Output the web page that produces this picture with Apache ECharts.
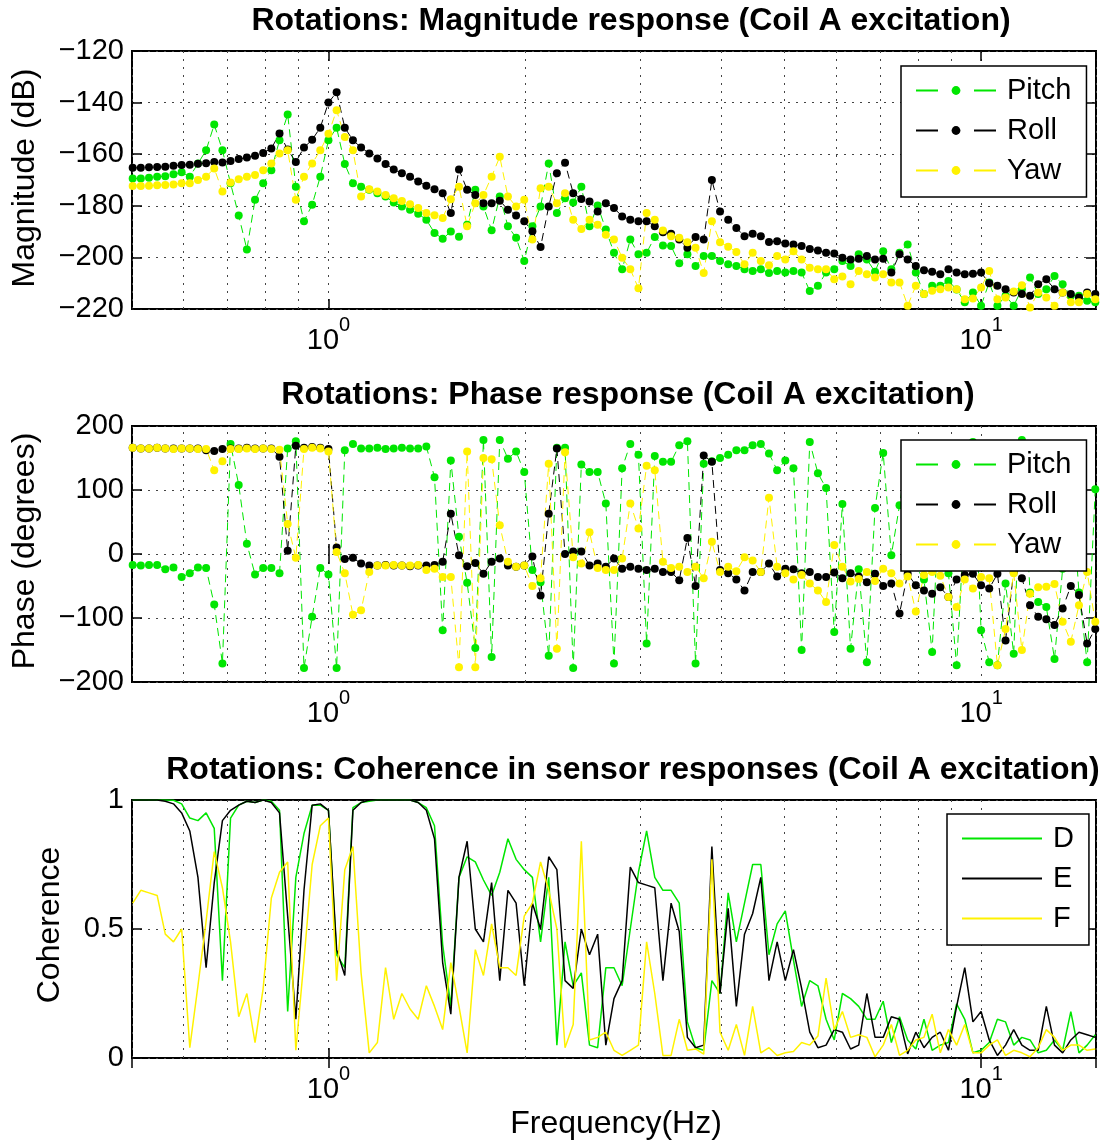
<!DOCTYPE html>
<html>
<head>
<meta charset="utf-8">
<title>Rotations (Coil A excitation)</title>
<script src="https://cdn.jsdelivr.net/npm/echarts@6/dist/echarts.min.js"></script>
<style>
  html, body { margin: 0; padding: 0; background: #fff; }
  #chart { width: 1104px; height: 1143px; }
</style>
</head>
<body>
<div id="chart"></div>
<script>
// frequency grid (Hz), shared by the three panels
var freq = [
  0.5012, 0.5158, 0.5309, 0.5464, 0.5623, 0.5788, 0.5957, 0.6131,
  0.6310, 0.6494, 0.6683, 0.6879, 0.7079, 0.7286, 0.7499, 0.7718,
  0.7943, 0.8175, 0.8414, 0.8660, 0.8913, 0.9173, 0.9441, 0.9716,
  1.0000, 1.0292, 1.0593, 1.0902, 1.1220, 1.1548, 1.1885, 1.2232,
  1.2589, 1.2957, 1.3335, 1.3725, 1.4125, 1.4538, 1.4962, 1.5399,
  1.5849, 1.6312, 1.6788, 1.7278, 1.7783, 1.8302, 1.8836, 1.9387,
  1.9953, 2.0535, 2.1135, 2.1752, 2.2387, 2.3041, 2.3714, 2.4406,
  2.5119, 2.5852, 2.6607, 2.7384, 2.8184, 2.9007, 2.9854, 3.0726,
  3.1623, 3.2546, 3.3497, 3.4475, 3.5481, 3.6517, 3.7584, 3.8681,
  3.9811, 4.0973, 4.2170, 4.3401, 4.4668, 4.5973, 4.7315, 4.8697,
  5.0119, 5.1582, 5.3088, 5.4639, 5.6234, 5.7876, 5.9566, 6.1306,
  6.3096, 6.4938, 6.6834, 6.8786, 7.0795, 7.2862, 7.4989, 7.7179,
  7.9433, 8.1752, 8.4140, 8.6596, 8.9125, 9.1728, 9.4406, 9.7163,
  10.000, 10.292, 10.593, 10.902, 11.220, 11.548, 11.885, 12.232,
  12.589, 12.957, 13.335, 13.725, 14.125, 14.538, 14.962
];

// magnitude response (dB)
var pitchMag = [
  -169.4, -169.4, -169.1, -168.7, -168.5, -167.8, -167.0, -168.7,
  -163.6, -158.5, -148.5, -158.5, -171.3, -183.8, -196.9, -177.7,
  -171.3, -166.2, -154.6, -144.6, -172.6, -186.0, -179.6, -168.7,
  -154.6, -149.7, -163.8, -171.3, -172.6, -173.8, -175.1, -176.4,
  -178.7, -180.3, -181.5, -183.1, -185.4, -190.5, -192.8, -190.0,
  -192.0, -187.3, -173.8, -180.3, -189.5, -176.4, -187.9, -192.4,
  -201.4, -187.9, -180.3, -163.6, -182.8, -177.1, -178.7, -172.6,
  -187.9, -179.9, -189.2, -198.2, -204.6, -193.1, -198.8, -198.2,
  -192.1, -195.4, -195.6, -202.3, -198.8, -203.3, -199.5, -199.5,
  -201.4, -202.7, -203.3, -204.6, -205.3, -204.6, -206.0, -205.3,
  -205.9, -205.3, -205.9, -213.0, -211.0, -205.9, -204.6, -201.4,
  -203.3, -198.8, -200.8, -205.6, -197.6, -204.6, -198.2, -195.0,
  -205.9, -214.2, -211.0, -211.0, -209.1, -212.4, -217.4, -213.6,
  -218.7, -209.7, -218.7, -214.9, -218.7, -212.3, -207.8, -214.2,
  -212.3, -207.2, -210.4, -214.9, -214.9, -216.8, -217.4
];
var rollMag = [
  -165.3, -165.3, -165.1, -165.0, -164.9, -164.5, -164.2, -164.1,
  -163.7, -163.5, -163.0, -163.2, -162.6, -161.9, -161.3, -160.6,
  -159.5, -157.8, -152.0, -158.2, -163.0, -157.4, -154.4, -149.7,
  -140.0, -136.0, -149.7, -154.6, -157.4, -159.7, -161.7, -163.8,
  -165.9, -167.4, -168.7, -170.6, -172.2, -173.6, -175.1, -182.8,
  -165.9, -173.8, -175.8, -179.0, -179.0, -178.0, -181.5, -183.8,
  -186.0, -189.9, -196.0, -180.3, -167.4, -163.3, -175.1, -177.4,
  -178.3, -182.2, -179.0, -180.9, -184.1, -185.4, -186.0, -186.0,
  -187.9, -190.3, -190.8, -193.1, -196.3, -192.1, -193.1, -170.0,
  -182.2, -185.4, -188.6, -191.8, -190.8, -191.8, -194.0, -193.7,
  -194.6, -195.0, -195.6, -196.7, -197.3, -198.2, -198.5, -200.1,
  -200.8, -200.5, -199.5, -200.8, -200.5, -205.9, -198.8, -200.8,
  -203.3, -205.0, -205.6, -206.5, -204.6, -205.9, -206.5, -206.3,
  -205.9, -210.0, -211.0, -212.3, -213.6, -214.2, -214.9, -210.4,
  -208.5, -212.3, -213.6, -214.2, -215.5, -213.6, -214.2
];
var yawMag = [
  -172.3, -172.3, -172.2, -172.0, -171.9, -171.7, -171.3, -171.3,
  -170.0, -168.7, -165.5, -174.5, -171.0, -169.7, -168.7, -168.1,
  -166.2, -163.6, -159.7, -158.5, -177.7, -168.7, -163.6, -158.5,
  -152.1, -143.0, -153.3, -158.5, -176.4, -173.6, -174.5, -175.8,
  -177.1, -178.1, -179.4, -180.9, -182.8, -183.7, -184.7, -177.5,
  -172.6, -187.9, -179.0, -175.8, -168.7, -161.0, -176.4, -180.3,
  -177.7, -193.1, -173.2, -172.6, -179.0, -175.1, -185.4, -189.0,
  -185.4, -187.3, -191.2, -193.1, -200.1, -204.6, -212.0, -182.8,
  -185.4, -189.6, -191.8, -192.4, -194.1, -196.3, -206.0, -186.0,
  -194.1, -195.9, -197.9, -202.7, -198.2, -201.4, -203.0, -199.5,
  -200.8, -197.6, -200.8, -204.0, -204.6, -204.6, -208.5, -207.4,
  -210.4, -205.3, -206.5, -207.8, -206.5, -209.7, -209.7, -218.7,
  -211.0, -214.2, -212.9, -212.3, -211.7, -212.3, -216.2, -215.9,
  -211.7, -205.3, -216.2, -215.5, -213.2, -210.8, -219.4, -213.6,
  -215.5, -218.7, -213.6, -217.4, -217.4, -214.2, -216.2
];

// phase response (degrees)
var pitchPhase = [
  -17, -18, -17, -17, -24, -21, -36, -30,
  -21, -22, -79, -171, 172, 108, 16, -32,
  -22, -22, -30, 165, 176, -178, -98, -22,
  -32, -178, 162, 172, 165, 165, 166, 164,
  165, 166, 165, 165, 168, 120, -119, 146,
  27, -45, -147, 178, -161, 178, 149, 160,
  128, -25, -44, -159, 166, 166, -178, 140,
  128, 128, 79, -171, 134, 172, 155, -140,
  153, 144, 144, 170, 176, -171, 141, 145,
  150, 155, 162, 162, 170, 172, 157, 131,
  146, 134, -150, 175, 126, 103, -122, 78,
  -148, -24, -169, 72, 158, -2, 76, 160,
  -20, -40, -153, 120, -30, -174, 60, 175,
  -119, -169, -174, -46, -156, 178, -60, -75,
  -83, -164, -23, 120, -60, -169, 101
];
var rollPhase = [
  166, 165, 165, 166, 165, 165, 165, 165,
  165, 162, 161, 164, 165, 165, 166, 165,
  165, 165, 152, 5, 169, 166, 167, 166,
  164, 10, -8, -6, -15, -18, -18, -17,
  -18, -18, -19, -18, -18, -17, -12, 63,
  -2, -19, -14, -31, -12, -7, -18, -20,
  -18, -4, -65, 63, 165, 0, 4, 4,
  -18, -15, -20, -7, -23, -20, -23, -25,
  -23, -28, -28, -41, 25, -50, 154, 144,
  -25, -30, -40, -57, -28, -28, -15, -35,
  -23, -24, -30, -28, -36, -36, -29, -38,
  -30, -35, -44, -31, -50, -46, -93, -31,
  -49, -57, -62, -52, -67, -40, -33, -31,
  -49, -54, -31, -135, -28, -38, -80, -98,
  -102, -111, -85, -50, -64, -140, -117
];
var yawPhase = [
  166, 165, 165, 166, 165, 164, 165, 165,
  164, 164, 131, 145, 164, 164, 165, 164,
  165, 164, 163, 47, -6, 164, 166, 165,
  160, 3, -30, -95, -88, -28, -18, -18,
  -17, -18, -18, -17, -25, -23, -36, -36,
  -177, 160, -177, 150, 148, 45, -12, -20,
  -18, -50, -38, 141, -148, 159, -5, -15,
  34, -22, -25, -25, -7, 79, 40, 138,
  131, -12, -22, -20, -28, -20, -38, 19,
  -28, -20, -27, -5, -10, -28, 88, -20,
  -30, -40, -33, -46, -57, -75, 14, -20,
  -43, -39, -28, -42, -23, -30, -46, -35,
  -90, -33, -28, -34, -67, -83, -40, -54,
  -36, -38, -174, -117, -30, -150, -62, -52,
  -51, -47, -106, -137, -80, -28, -106
];

// coherence in sensor responses
var cohD = [
  1, 1, 1, 1, 1, 0.999, 0.985, 0.93,
  0.92, 0.95, 0.89, 0.3, 0.93, 0.98, 0.995, 0.99,
  1, 0.995, 0.96, 0.18, 0.7, 0.87, 0.98, 0.98,
  0.96, 0.4, 0.35, 0.97, 0.99, 0.995, 1, 1,
  1, 1, 1, 0.99, 0.97, 0.9, 0.44, 0.2,
  0.7, 0.78, 0.76, 0.69, 0.63, 0.72, 0.85, 0.77,
  0.73, 0.7, 0.45, 0.7, 0.05, 0.45, 0.28, 0.33,
  0.05, 0.04, 0.35, 0.35, 0.28, 0.5, 0.72, 0.88,
  0.7, 0.65, 0.65, 0.6, 0.14, 0.04, 0.03, 0.3,
  0.25, 0.64, 0.45, 0.6, 0.75, 0.75, 0.4, 0.52,
  0.57, 0.38, 0.2, 0.3, 0.28, 0.15, 0.07, 0.25,
  0.23, 0.2, 0.15, 0.15, 0.22, 0.06, 0.16, 0.07,
  0.035, 0.15, 0.03, 0.05, 0.06, 0.21, 0.15, 0.02,
  0.03, 0.06, 0.15, 0.14, 0.05, 0.08, 0.07, 0.02,
  0.03, 0.07, 0.03, 0.18, 0.02, 0.05, 0.09
];
var cohE = [
  1, 1, 1, 1, 0.995, 0.985, 0.95, 0.88,
  0.7, 0.35, 0.68, 0.92, 0.96, 0.98, 0.995, 0.99,
  1, 0.99, 0.95, 0.55, 0.15, 0.65, 0.98, 0.985,
  0.96, 0.42, 0.32, 0.96, 0.99, 1, 1, 1,
  1, 1, 1, 0.99, 0.96, 0.85, 0.37, 0.17,
  0.7, 0.84, 0.5, 0.45, 0.68, 0.3, 0.65, 0.6,
  0.28, 0.6, 0.5, 0.78, 0.73, 0.3, 0.27, 0.5,
  0.4, 0.48, 0.05, 0.23, 0.3, 0.74, 0.68, 0.67,
  0.66, 0.3, 0.6, 0.49, 0.08, 0.04, 0.05, 0.82,
  0.25, 0.58, 0.2, 0.48, 0.56, 0.7, 0.3, 0.45,
  0.3, 0.42, 0.27, 0.1, 0.04, 0.05, 0.11, 0.1,
  0.035, 0.05, 0.25, 0.08, 0.08, 0.16, 0.15, 0.016,
  0.1, 0.04, 0.08, 0.1, 0.03, 0.2, 0.35, 0.14,
  0.18, 0.07, 0.01, 0.05, 0.11, 0.05, 0.03, 0.03,
  0.2, 0.05, 0.02, 0.07, 0.1, 0.09, 0.08
];
var cohF = [
  0.6, 0.65, 0.64, 0.63, 0.48, 0.45, 0.5, 0.04,
  0.28, 0.53, 0.8, 0.66, 0.45, 0.16, 0.25, 0.06,
  0.27, 0.62, 0.72, 0.76, 0.03, 0.38, 0.75, 0.9,
  0.93, 0.3, 0.73, 0.82, 0.33, 0.02, 0.06, 0.35,
  0.15, 0.25, 0.19, 0.15, 0.28, 0.2, 0.11, 0.37,
  0.2, 0.02, 0.42, 0.32, 0.52, 0.35, 0.35, 0.32,
  0.55, 0.6, 0.76, 0.65, 0.5, 0.04, 0.13, 0.84,
  0.07, 0.08, 0.1, 0.03, 0.01, 0.03, 0.05, 0.45,
  0.25, 0.01, 0.01, 0.15, 0.03, 0.035, 0.015, 0.77,
  0.1, 0.03, 0.13, 0.01, 0.2, 0.02, 0.04, 0.01,
  0.02, 0.025, 0.06, 0.05, 0.085, 0.31, 0.11, 0.18,
  0.08, 0.09, 0.08, 0.005, 0.05, 0.13, 0.01, 0.03,
  0.07, 0.08, 0.17, 0.02, 0.11, 0.05, 0.13, 0.02,
  0.02, 0.05, 0.07, 0.01, 0.03, 0.02, 0.005, 0.04,
  0.11, 0.08, 0.03, 0.05, 0.05, 0.03, 0.035
];

// dotted vertical grid lines between the decades
var minorFreq = [0.6, 0.7, 0.8, 0.9, 2, 3, 4, 5, 6, 7, 8, 9];

var FONT = '"Liberation Sans", Arial, Helvetica, sans-serif';
var GREEN = '#00e600', YELLOW = '#fff200', BLACK = '#000000';
var DOTTED = {color: '#444', width: 1, type: [2, 6]};

function pairs(ys) {
  return freq.map(function (f, i) { return [f, ys[i]]; });
}

var panels = [
  {top: 51, height: 258, min: -220, max: -120, interval: 20},
  {top: 426, height: 256, min: -200, max: 200, interval: 100},
  {top: 800, height: 258, min: 0, max: 1, interval: 0.5}
];

var grid = [], xAxis = [], yAxis = [];
panels.forEach(function (p, i) {
  grid.push({
    left: 132, width: 964, top: p.top, height: p.height,
    show: true, borderColor: '#000', borderWidth: 2, backgroundColor: '#fff'
  });
  var xBase = {
    gridIndex: i, type: 'log', logBase: 10, min: 0.5, max: 15,
    axisLine: {show: false},
    axisTick: {inside: true, length: 10, lineStyle: {color: '#000', width: 1.5}}
  };
  xAxis.push(Object.assign({}, xBase, {
    position: 'bottom',
    splitLine: {show: true, lineStyle: DOTTED},
    axisLabel: {
      margin: 6, showMinLabel: false, showMaxLabel: false,
      formatter: function (v) {
        if (Math.abs(v - 1) < 1e-6) return '{b|10}{s|0}';
        if (Math.abs(v - 10) < 1e-6) return '{b|10}{s|1}';
        return '';
      },
      rich: {
        b: {fontSize: 29, fontFamily: FONT, color: '#000', lineHeight: 40, verticalAlign: 'bottom'},
        s: {fontSize: 20, fontFamily: FONT, color: '#000', lineHeight: 20, verticalAlign: 'top'}
      }
    }
  }));
  xAxis.push(Object.assign({}, xBase, {
    position: 'top', splitLine: {show: false}, axisLabel: {show: false}
  }));
  var yBase = {
    gridIndex: i, type: 'value', min: p.min, max: p.max, interval: p.interval,
    axisLine: {show: false},
    axisTick: {inside: true, length: 10, lineStyle: {color: '#000', width: 1.5}}
  };
  yAxis.push(Object.assign({}, yBase, {
    position: 'left',
    splitLine: {show: true, lineStyle: DOTTED},
    axisLabel: {
      margin: 8, fontSize: 29, fontFamily: FONT, color: '#000',
      formatter: function (v) { return String(v).replace('-', '\u2212'); }
    }
  }));
  yAxis.push(Object.assign({}, yBase, {
    position: 'right', splitLine: {show: false}, axisLabel: {show: false}
  }));
});

function gridLines() {
  return {
    silent: true, z: 1, symbol: ['none', 'none'],
    label: {show: false}, lineStyle: DOTTED,
    data: minorFreq.map(function (f) { return {xAxis: f}; })
  };
}

function dotSeries(name, ys, color, panel) {
  return {
    name: name, type: 'line', data: pairs(ys),
    xAxisIndex: panel * 2, yAxisIndex: panel * 2,
    symbol: 'circle', symbolSize: 8, showSymbol: true,
    lineStyle: {color: color, width: 1, type: [8, 5]},
    itemStyle: {color: color},
    emphasis: {disabled: true}
  };
}

function cohSeries(name, ys, color) {
  return {
    name: name, type: 'line', data: pairs(ys),
    xAxisIndex: 4, yAxisIndex: 4,
    symbol: 'none', showSymbol: false,
    lineStyle: {color: color, width: 1.5},
    itemStyle: {color: color},
    emphasis: {disabled: true}
  };
}

var series = [
  dotSeries('Pitch', pitchMag, GREEN, 0),
  dotSeries('Roll', rollMag, BLACK, 0),
  dotSeries('Yaw', yawMag, YELLOW, 0),
  dotSeries('Pitch', pitchPhase, GREEN, 1),
  dotSeries('Roll', rollPhase, BLACK, 1),
  dotSeries('Yaw', yawPhase, YELLOW, 1),
  cohSeries('D', cohD, GREEN),
  cohSeries('E', cohE, BLACK),
  cohSeries('F', cohF, YELLOW)
];
series[0].markLine = gridLines();
series[3].markLine = gridLines();
series[6].markLine = gridLines();

function legendBox(items, left, top, lineType) {
  return {
    data: items, left: left, top: top, orient: 'vertical',
    itemWidth: 80, itemHeight: 11, itemGap: 11,
    padding: [10, 15, 12, 14],
    borderColor: '#000', borderWidth: 1.5, backgroundColor: '#fff',
    selectedMode: false,
    lineStyle: {type: lineType},
    textStyle: {fontSize: 29, lineHeight: 28, fontFamily: FONT, color: '#000', padding: [0, 0, 0, 6]}
  };
}

function lineOnly(name) {
  return {name: name, itemStyle: {opacity: 0}};
}

function label(text, x, y, size, bold, rotate) {
  var font = (bold ? 'bold ' : '') + size + 'px ' + FONT;
  return {
    type: 'text', x: x, y: y, rotation: rotate ? Math.PI / 2 : 0,
    style: {
      text: text, font: font, fill: '#000',
      textAlign: 'center', textVerticalAlign: 'middle',
      align: 'center', verticalAlign: 'middle'
    }
  };
}

var chart = echarts.init(document.getElementById('chart'));
chart.setOption({
  animation: false,
  backgroundColor: '#fff',
  textStyle: {fontFamily: FONT},
  grid: grid,
  xAxis: xAxis,
  yAxis: yAxis,
  legend: [
    legendBox(['Pitch', 'Roll', 'Yaw'], 901, 66, [22, 36]),
    legendBox(['Pitch', 'Roll', 'Yaw'], 901, 440, [22, 36]),
    legendBox([lineOnly('D'), lineOnly('E'), lineOnly('F')], 947, 814, 'solid')
  ],
  graphic: [
    label('Rotations: Magnitude response (Coil A excitation)', 631, 21, 32, true, false),
    label('Rotations: Phase response (Coil A excitation)', 628, 395, 32, true, false),
    label('Rotations: Coherence in sensor responses (Coil A excitation)', 633, 770, 32, true, false),
    label('Magnitude (dB)', 25, 178, 32, false, true),
    label('Phase (degrees)', 25, 551, 32, false, true),
    label('Coherence', 50, 925, 32, false, true),
    label('Frequency(Hz)', 616, 1124, 32, false, false)
  ],
  series: series
});
</script>
</body>
</html>
